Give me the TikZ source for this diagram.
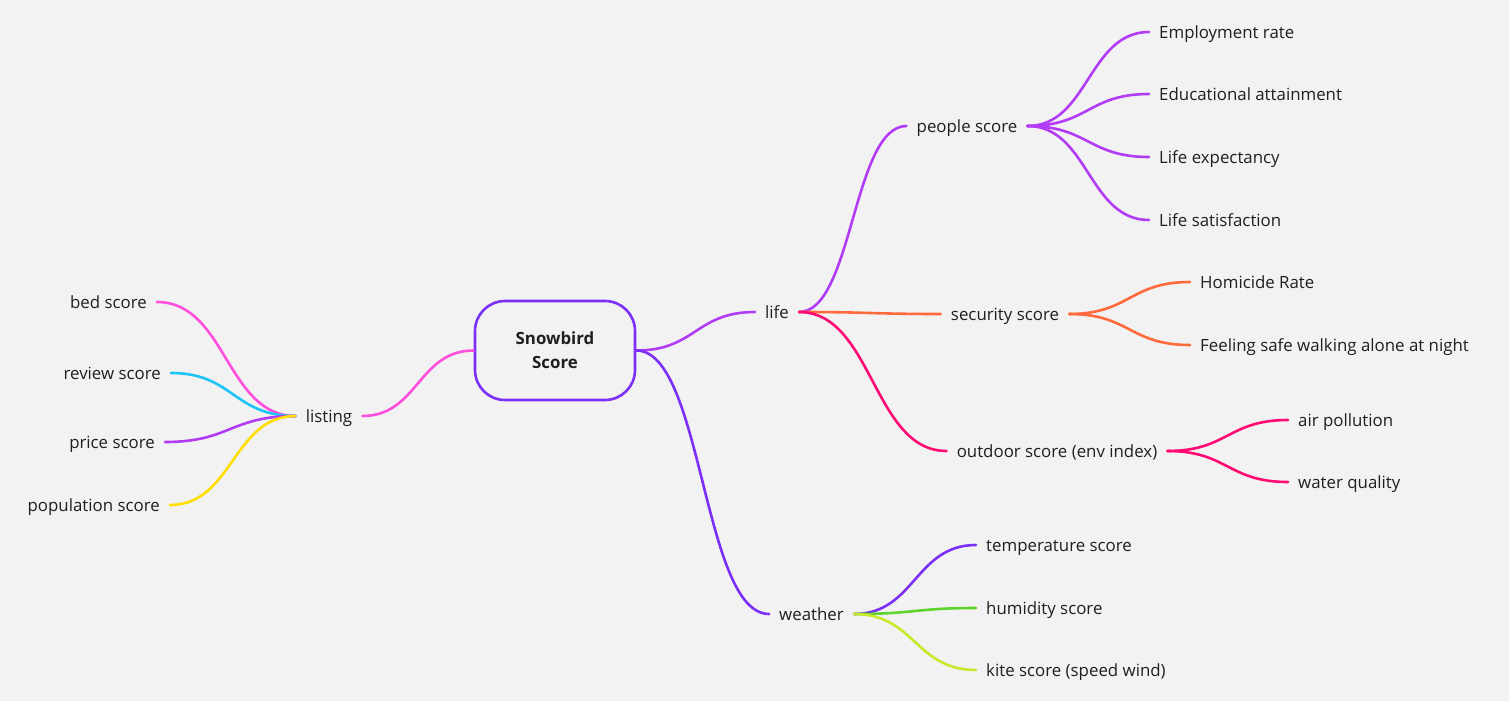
\documentclass[tikz,border=0pt]{standalone}
\usepackage{fontspec}
\setmainfont{Open Sans}
\usetikzlibrary{calc}
\definecolor{bg}{HTML}{F2F2F2}
\definecolor{txt}{HTML}{1F1F1F}
\definecolor{violet}{HTML}{7B2FF7}
\definecolor{purp}{HTML}{B23CF5}
\definecolor{orng}{HTML}{FF6A3D}
\definecolor{pinkr}{HTML}{FF0A73}
\definecolor{magn}{HTML}{FF4FDC}
\definecolor{cyanb}{HTML}{1DC5F7}
\definecolor{yell}{HTML}{FFDE00}
\definecolor{grn}{HTML}{5FD32E}
\definecolor{lime}{HTML}{C5EA2A}
\tikzset{
  lbl/.style={inner xsep=10pt, inner ysep=0pt, text height=12pt, text depth=0pt,
    font=\fontsize{16.85}{20}\selectfont, text=txt},
  rootbox/.style={draw=violet, line width=2.6pt, rounded corners=30pt,
    minimum width=160pt, minimum height=99pt, align=center, text=txt,
    font=\bfseries\fontsize{16.85}{24}\selectfont},
  link/.style={line width=2.6pt, line cap=round,
    to path={let \p1=(\tikztostart), \p2=(\tikztotarget) in
      .. controls ({(\x1+\x2)/2},\y1) and ({(\x1+\x2)/2},\y2) .. (\tikztotarget)}}
}
\begin{document}
\begin{tikzpicture}[x=1pt,y=-1pt]
\useasboundingbox (0,0) rectangle (1509,701);
\fill[bg] (0,0) rectangle (1509,701);

\node[rootbox] (root) at (555,350.5) {Snowbird\\Score};

\node[lbl] (life) at (777,312) {life};
\node[lbl] (people) at (967,126) {people score};
\node[lbl] (security) at (1005,314) {security score};
\node[lbl] (outdoor) at (1057,451) {outdoor score (env index)};
\node[lbl] (weather) at (811.5,614) {weather};
\node[lbl] (listing) at (329,416) {listing};

\node[lbl,anchor=west] (emp) at (1149,32) {Employment rate};
\node[lbl,anchor=west] (edu) at (1149,94) {Educational attainment};
\node[lbl,anchor=west] (lexp) at (1149,157) {Life expectancy};
\node[lbl,anchor=west] (lsat) at (1149,220) {Life satisfaction};
\node[lbl,anchor=west] (hom) at (1190,282) {Homicide Rate};
\node[lbl,anchor=west] (safe) at (1190,345) {Feeling safe walking alone at night};
\node[lbl,anchor=west] (air) at (1288,420) {air pollution};
\node[lbl,anchor=west] (water) at (1288,482) {water quality};
\node[lbl,anchor=west] (temp) at (976,545) {temperature score};
\node[lbl,anchor=west] (hum) at (976,608) {humidity score};
\node[lbl,anchor=west] (kite) at (976,670) {kite score (speed wind)};

\node[lbl,anchor=east] (bed) at (157,302) {bed score};
\node[lbl,anchor=east] (review) at (171,373) {review score};
\node[lbl,anchor=east] (price) at (165,442) {price score};
\node[lbl,anchor=east] (pop) at (170,505) {population score};

\draw[link,purp] (root.east) to (life.west);
\draw[link,violet] (root.east) to (weather.west);
\draw[link,magn] (root.west) to (listing.east);

\draw[link,purp] (life.east) to (people.west);
\draw[link,orng] (life.east) to (security.west);
\draw[link,pinkr] (life.east) to (outdoor.west);

\draw[link,purp] (people.east) to (emp.west);
\draw[link,purp] (people.east) to (edu.west);
\draw[link,purp] (people.east) to (lexp.west);
\draw[link,purp] (people.east) to (lsat.west);

\draw[link,orng] (security.east) to (hom.west);
\draw[link,orng] (security.east) to (safe.west);

\draw[link,pinkr] (outdoor.east) to (air.west);
\draw[link,pinkr] (outdoor.east) to (water.west);

\draw[link,violet] (weather.east) to (temp.west);
\draw[link,grn] (weather.east) to (hum.west);
\draw[link,lime] (weather.east) to (kite.west);

\draw[link,magn] (listing.west) to (bed.east);
\draw[link,cyanb] (listing.west) to (review.east);
\draw[link,purp] (listing.west) to (price.east);
\draw[link,yell] (listing.west) to (pop.east);
\end{tikzpicture}
\end{document}
